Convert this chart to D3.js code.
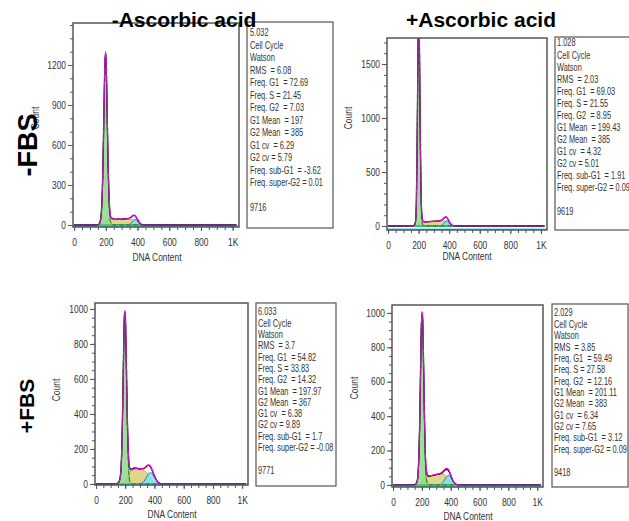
<!DOCTYPE html>
<html>
<head>
<meta charset="utf-8">
<script src="https://cdn.jsdelivr.net/npm/d3@7"></script>
<style>
  body { margin: 0; background: #fff; }
  text { font-family: "Liberation Sans", Arial, sans-serif; }
  .big { font-weight: bold; }
</style>
</head>
<body>
<svg id="chart" width="629" height="521"></svg>
<script>
'use strict';

/* values */

var colTitles = ['-Ascorbic acid', '+Ascorbic acid'];
var rowTitles = ['-FBS', '+FBS'];

var xTicks = [0, 200, 400, 600, 800, 1000];
var xTickLabels = ['0', '200', '400', '600', '800', '1K'];
var p1YTicks = [0, 300, 600, 900, 1200];
var p2YTicks = [0, 500, 1000, 1500];
var p3YTicks = [0, 200, 400, 600, 800, 1000];
var p4YTicks = [0, 200, 400, 600, 800, 1000];

// -FBS / -Ascorbic acid
var p1X    = [0,140,150,160,170,175,180,185,190,195,200,205,210,215,220,225,230,240,250,260,280,300,320,340,350,360,370,380,390,400,410,420,430,440,460,1023];
var p1G1   = [0,0,0,8,60,150,330,620,950,1230,1270,1050,720,400,180,70,25,5,0,0,0,0,0,0,0,0,0,0,0,0,0,0,0,0,0,0];
var p1S    = [0,0,0,0,0,3,8,14,20,26,30,34,37,39,40,41,42,42,43,43,44,44,45,45,45,43,39,32,23,14,6,2,0,0,0,0];
var p1G2   = [0,0,0,0,0,0,0,0,0,0,0,0,0,0,0,0,0,0,0,0,0,0,0,1,5,14,28,40,40,30,17,7,2,0,0,0];
var p1Fit  = [0,0,0,8,60,153,338,634,970,1256,1300,1084,757,439,220,111,67,47,43,43,44,44,45,46,50,57,67,72,63,44,23,9,2,0,0,0];
var p1Data = [0,0,2,12,72,170,350,650,985,1240,1290,1070,740,430,215,108,62,50,46,42,46,43,47,48,52,60,70,74,60,40,20,8,3,1,0,0];

// -FBS / +Ascorbic acid
var p2X    = [0,150,170,180,185,190,195,200,205,210,215,220,225,230,240,260,280,300,320,340,350,360,370,380,390,400,410,420,430,440,460,1023];
var p2G1   = [0,0,0,40,200,700,1500,2100,1700,900,350,90,20,5,0,0,0,0,0,0,0,0,0,0,0,0,0,0,0,0,0,0];
var p2S    = [0,0,0,2,5,10,18,25,29,32,34,35,36,36,37,39,41,43,45,47,48,48,45,38,27,15,6,2,0,0,0,0];
var p2G2   = [0,0,0,0,0,0,0,0,0,0,0,0,0,0,0,0,0,0,0,1,5,15,32,48,44,28,14,5,1,0,0,0];
var p2Fit  = [0,0,0,42,205,710,1518,2125,1729,932,384,125,56,41,37,39,41,43,45,48,53,63,77,86,71,43,20,7,1,0,0,0];
var p2Data = [0,1,6,48,215,720,1530,2110,1720,925,380,128,60,44,38,40,42,45,44,50,55,64,78,84,68,42,19,7,2,0,0,0];

// +FBS / -Ascorbic acid
var p3X    = [0,140,150,160,170,175,180,185,190,195,200,205,210,215,220,225,230,240,250,260,280,300,310,320,330,340,350,360,370,380,390,400,410,420,430,440,450,1023];
var p3G1   = [0,0,3,15,70,160,330,560,800,975,965,780,540,310,150,60,20,4,0,0,0,0,0,0,0,0,0,0,0,0,0,0,0,0,0,0,0,0];
var p3S    = [0,0,0,0,0,0,0,3,8,14,20,27,35,43,52,59,65,75,82,86,88,86,84,80,75,70,62,52,40,28,17,9,4,1,0,0,0,0];
var p3G2   = [0,0,0,0,0,0,0,0,0,0,0,0,0,0,0,0,0,0,0,0,0,0,3,8,17,30,45,58,65,62,52,37,23,12,5,1,0,0];
var p3Fit  = [0,0,3,15,70,160,330,563,808,989,985,807,575,353,202,119,85,79,82,86,88,86,87,88,92,100,107,110,105,90,69,46,27,13,5,1,0,0];
var p3Data = [0,1,5,18,75,165,335,570,815,980,975,800,570,350,205,122,92,84,86,92,90,84,88,86,90,96,104,106,100,86,66,45,28,14,6,2,0,0];

// +FBS / +Ascorbic acid
var p4X    = [0,150,160,170,175,180,185,190,195,200,205,210,215,220,225,230,240,250,260,280,300,320,330,340,350,360,370,380,390,400,410,420,430,440,450,1023];
var p4G1   = [0,0,5,30,80,180,350,600,860,990,960,780,520,280,120,45,8,1,0,0,0,0,0,0,0,0,0,0,0,0,0,0,0,0,0,0];
var p4S    = [0,0,0,0,0,0,3,6,12,18,25,32,38,42,45,47,50,52,54,58,62,65,66,65,63,58,50,40,28,17,8,3,1,0,0,0];
var p4G2   = [0,0,0,0,0,0,0,0,0,0,0,0,0,0,0,0,0,0,0,0,0,0,3,9,20,34,46,55,54,43,29,16,7,2,0,0];
var p4Fit  = [0,0,5,30,80,180,353,606,872,1008,985,812,558,322,165,92,58,53,54,58,62,65,69,74,83,92,96,95,82,60,37,19,8,2,0,0];
var p4Data = [0,2,8,34,85,185,358,610,870,1000,975,805,552,318,160,88,55,50,52,56,60,63,66,70,78,86,90,88,76,56,35,18,8,3,0,0];

var p1Stats = ['5.032', 'Cell Cycle', 'Watson', 'RMS  = 6.08', 'Freq. G1  = 72.69', 'Freq. S = 21.45', 'Freq. G2  = 7.03',
  'G1 Mean  = 197', 'G2 Mean  = 385', 'G1 cv  = 6.29', 'G2 cv = 5.79', 'Freq. sub-G1  = -3.62', 'Freq. super-G2 = 0.01', '', '9716'];
var p2Stats = ['1.028', 'Cell Cycle', 'Watson', 'RMS  = 2.03', 'Freq. G1  = 69.03', 'Freq. S = 21.55', 'Freq. G2  = 8.95',
  'G1 Mean  = 199.43', 'G2 Mean  = 385', 'G1 cv  = 4.32', 'G2 cv = 5.01', 'Freq. sub-G1  = 1.91', 'Freq. super-G2 = 0.09', '', '9619'];
var p3Stats = ['6.033', 'Cell Cycle', 'Watson', 'RMS  = 3.7', 'Freq. G1  = 54.82', 'Freq. S = 33.83', 'Freq. G2  = 14.32',
  'G1 Mean  = 197.97', 'G2 Mean  = 367', 'G1 cv  = 6.38', 'G2 cv = 9.89', 'Freq. sub-G1  = 1.7', 'Freq. super-G2 = -0.08', '', '9771'];
var p4Stats = ['2.029', 'Cell Cycle', 'Watson', 'RMS  = 3.85', 'Freq. G1  = 59.49', 'Freq. S = 27.58', 'Freq. G2  = 12.16',
  'G1 Mean  = 201.11', 'G2 Mean  = 383', 'G1 cv  = 6.34', 'G2 cv = 7.65', 'Freq. sub-G1  = 3.12', 'Freq. super-G2 = 0.09', '', '9418'];

/* layout */

var xDomain = [-7, 1040];
var NARROW_STATS = 0.74;   // the cytometer software uses a condensed face
var NARROW_AXIS = 0.84;

var panels = [
  { x: p1X, g1: p1G1, s: p1S, g2: p1G2, fit: p1Fit, data: p1Data, yTicks: p1YTicks, yMinor: 100, yDom: [-15, 1515],
    stats: p1Stats, frame: [73, 23, 166, 204], box: [247, 22, 86, 206], tx: 250, ty: 33, lh: 12.5,
    count: [39, 118], dna: [157, 261] },
  { x: p2X, g1: p2G1, s: p2S, g2: p2G2, fit: p2Fit, data: p2Data, yTicks: p2YTicks, yMinor: 100, yDom: [-37, 1741],
    stats: p2Stats, frame: [387, 38, 160, 192], box: [555, 37, 90, 193], tx: 557, ty: 43, lh: 12.07,
    count: [352, 118], dna: [467, 260] },
  { x: p3X, g1: p3G1, s: p3S, g2: p3G2, fit: p3Fit, data: p3Data, yTicks: p3YTicks, yMinor: 50, yDom: [-6, 1034],
    stats: p3Stats, frame: [95, 303, 153, 182], box: [256, 303, 80, 183], tx: 258, ty: 312, lh: 11.3,
    count: [60, 390], dna: [172, 518] },
  { x: p4X, g1: p4G1, s: p4S, g2: p4G2, fit: p4Fit, data: p4Data, yTicks: p4YTicks, yMinor: 50, yDom: [-12, 1046],
    stats: p4Stats, frame: [392, 305, 151, 182], box: [552, 304, 76, 183], tx: 554, ty: 313, lh: 11.36,
    count: [358, 388], dna: [468, 520] }
];

var svg = d3.select('#chart');

panels.forEach(function(p, i) {
  var fx = p.frame[0], fy = p.frame[1], fw = p.frame[2], fh = p.frame[3];

  var x = d3.scaleLinear().domain(xDomain).range([fx, fx + fw]);
  var y = d3.scaleLinear().domain(p.yDom).range([fy + fh, fy]);

  svg.append('clipPath').attr('id', 'clip' + i)
    .append('rect').attr('x', fx).attr('y', fy).attr('width', fw).attr('height', fh);

  var plot = svg.append('g').attr('clip-path', 'url(#clip' + i + ')');

  var area = d3.area()
    .x(function(d, j) { return x(p.x[j]); })
    .y0(y(0))
    .y1(function(d) { return y(d); })
    .curve(d3.curveMonotoneX);
  var line = d3.line()
    .x(function(d, j) { return x(p.x[j]); })
    .y(function(d) { return y(d); })
    .curve(d3.curveMonotoneX);

  // S phase
  plot.append('path').attr('d', area(p.s))
    .attr('fill', '#d9d27e').attr('fill-opacity', 0.9)
    .attr('stroke', '#e0a040').attr('stroke-width', 0.8);
  // G2 peak
  plot.append('path').attr('d', area(p.g2))
    .attr('fill', '#6fe6f2').attr('fill-opacity', 0.8)
    .attr('stroke', '#3a6ad8').attr('stroke-width', 1);
  // G1 peak
  plot.append('path').attr('d', area(p.g1))
    .attr('fill', '#8ed88a').attr('fill-opacity', 0.85)
    .attr('stroke', '#2fbf2f').attr('stroke-width', 1);

  // baseline
  plot.append('line')
    .attr('x1', fx).attr('x2', fx + fw).attr('y1', fy + fh - 0.5).attr('y2', fy + fh - 0.5)
    .attr('stroke', '#18e0e8').attr('stroke-width', 2);

  // data histogram
  plot.append('path').attr('d', line(p.data))
    .attr('fill', 'none').attr('stroke', '#000').attr('stroke-width', 1.3);

  // model fit
  plot.append('path').attr('d', line(p.fit))
    .attr('fill', 'none').attr('stroke', '#ff00ff').attr('stroke-width', 1.1);

  // dashed trace inside the G1 peak
  plot.append('path').attr('d', line(p.g1))
    .attr('fill', 'none').attr('stroke', '#3d5a3d').attr('stroke-width', 0.9)
    .attr('stroke-dasharray', '4,3');

  // frame
  svg.append('rect').attr('x', fx).attr('y', fy).attr('width', fw).attr('height', fh)
    .attr('fill', 'none').attr('stroke', '#555').attr('stroke-width', 1.5);

  // axes
  var yMinor = d3.range(0, p.yDom[1], p.yMinor);
  var xMinor = d3.range(0, 1001, 50);

  var ay = svg.append('g').attr('transform', 'translate(' + fx + ',0)')
    .call(d3.axisLeft(y).tickValues(p.yTicks).tickSize(5).tickPadding(2).tickFormat(d3.format('d')));
  svg.append('g').attr('transform', 'translate(' + fx + ',0)')
    .call(d3.axisLeft(y).tickValues(yMinor).tickSize(3).tickFormat(''));
  var ax = svg.append('g').attr('transform', 'translate(0,' + (fy + fh) + ')')
    .call(d3.axisBottom(x).tickValues(xTicks).tickSize(4).tickPadding(8)
      .tickFormat(function(d, k) { return xTickLabels[k]; }));
  svg.append('g').attr('transform', 'translate(0,' + (fy + fh) + ')')
    .call(d3.axisBottom(x).tickValues(xMinor).tickSize(3).tickFormat(''));

  svg.selectAll('.domain').remove();
  svg.selectAll('.tick line').attr('stroke', '#555');
  [ay, ax].forEach(function(a) {
    a.attr('font-family', null).attr('font-size', null);
    a.selectAll('text').attr('fill', '#333').attr('class', 'narrowAxis').style('font-size', '10px');
  });

  // axis titles
  svg.append('text').attr('class', 'narrowAxis')
    .attr('transform', 'translate(' + p.count[0] + ',' + p.count[1] + ') rotate(-90)')
    .attr('text-anchor', 'middle').attr('fill', '#333').style('font-size', '10px').text('Count');
  svg.append('text').attr('class', 'narrowAxis').attr('x', p.dna[0]).attr('y', p.dna[1])
    .attr('text-anchor', 'middle').attr('fill', '#333').style('font-size', '10px').text('DNA Content');

  // stats box, text squeezed horizontally with a scale so its box stays honest
  svg.append('clipPath').attr('id', 'boxclip' + i)
    .append('rect').attr('x', p.box[0]).attr('y', p.box[1]).attr('width', p.box[2]).attr('height', p.box[3]);
  svg.append('rect').attr('x', p.box[0]).attr('y', p.box[1]).attr('width', p.box[2]).attr('height', p.box[3])
    .attr('fill', '#fff').attr('stroke', '#555').attr('stroke-width', 1.2);
  svg.append('g').attr('clip-path', 'url(#boxclip' + i + ')')
    .append('g').attr('transform', 'translate(' + p.tx + ',0) scale(' + NARROW_STATS + ',1)')
    .selectAll('text').data(p.stats).enter().append('text')
    .attr('x', 0)
    .attr('y', function(d, k) { return p.ty + k * p.lh + 3.5; })
    .attr('fill', '#333')
    .style('font-size', '10px')
    .style('white-space', 'pre')
    .text(function(d) { return d; });
});

// squeeze the small axis texts to a condensed width
svg.selectAll('text.narrowAxis').each(function() {
  var w = this.getComputedTextLength();
  if (w > 0) {
    d3.select(this).attr('textLength', w * NARROW_AXIS).attr('lengthAdjust', 'spacingAndGlyphs');
  }
});

// column and row titles
svg.selectAll('.colTitle').data(colTitles).enter().append('text')
  .attr('class', 'big')
  .attr('x', function(d, i) { return [184, 481][i]; })
  .attr('y', 27)
  .attr('text-anchor', 'middle')
  .style('font-size', '21px')
  .text(function(d) { return d; });

svg.append('text').attr('class', 'big')
  .attr('transform', 'translate(37,145) rotate(-90)')
  .attr('text-anchor', 'middle').style('font-size', '27px').text(rowTitles[0]);
svg.append('text').attr('class', 'big')
  .attr('transform', 'translate(34,406) rotate(-90)')
  .attr('text-anchor', 'middle').style('font-size', '21px').text(rowTitles[1]);
</script>
</body>
</html>
